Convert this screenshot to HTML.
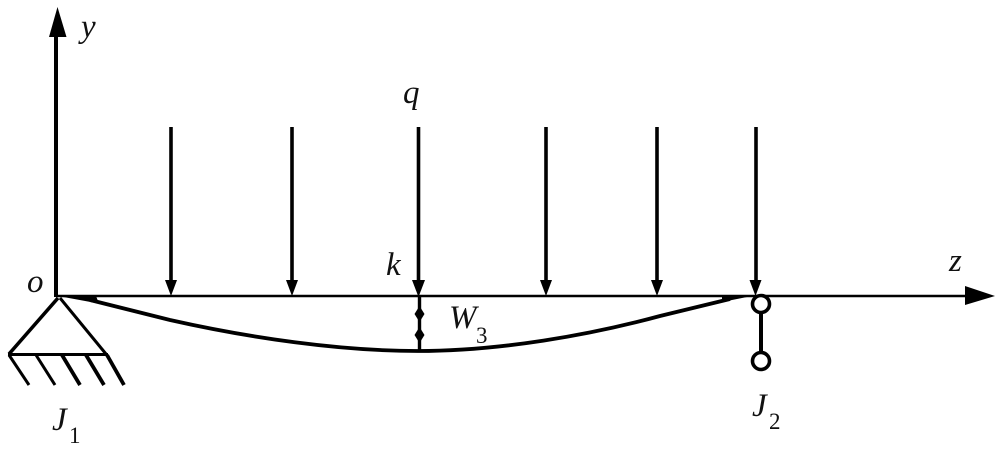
<!DOCTYPE html>
<html>
<head>
<meta charset="utf-8">
<style>
html,body{margin:0;padding:0;background:#fff;width:1000px;height:452px;overflow:hidden}
svg{display:block}
text{font-family:"Liberation Serif",serif;font-style:italic;fill:#111}
.n{font-style:normal}
</style>
</head>
<body>
<svg width="1000" height="452" viewBox="0 0 1000 452" xmlns="http://www.w3.org/2000/svg">
<!-- axes -->
<line x1="56" y1="35" x2="56" y2="297" stroke="#000" stroke-width="4"/>
<polygon points="57.5,7 49,37 66.5,37" fill="#000"/>
<line x1="56" y1="296" x2="965" y2="296" stroke="#000" stroke-width="2.6"/>
<polygon points="995,296 965,286 965,305" fill="#000"/>
<!-- load arrows -->
<g stroke="#000" stroke-width="3.6">
<line x1="171" y1="127" x2="171" y2="282"/>
<line x1="292" y1="127" x2="292" y2="282"/>
<line x1="418.500" y1="127" x2="418.500" y2="282"/>
<line x1="546" y1="127" x2="546" y2="282"/>
<line x1="657" y1="127" x2="657" y2="282"/>
<line x1="756" y1="127" x2="756" y2="282"/>
</g>
<g fill="#000">
<polygon points="165,280 177,280 171,296"/>
<polygon points="286,280 298,280 292,296"/>
<polygon points="412,280 425,280 418.500,297"/>
<polygon points="540,280 552,280 546,296"/>
<polygon points="651,280 663,280 657,296"/>
<polygon points="749.500,280 761.500,280 755.500,296"/>
</g>
<!-- deflection curve -->
<polygon points="58,296 96,296 98,301 96,303" fill="#000"/>
<polygon points="752,296 722,296 722,302" fill="#000"/>
<path d="M90,300 L170,320 C250,338 340,351 418,351 C500,351 590,335 660,316 L730,299" fill="none" stroke="#000" stroke-width="3.800"/>
<!-- W3 dimension -->
<line x1="419.500" y1="297" x2="419.500" y2="351" stroke="#000" stroke-width="3.400"/>
<polygon points="419.500,306 414.500,314 419.500,322 424.500,314" fill="#000"/>
<polygon points="419.500,327 414.500,335 419.500,343 424.500,335" fill="#000"/>
<!-- J1 support -->
<g stroke="#000" fill="none">
<line x1="58" y1="298" x2="9" y2="354" stroke-width="3.600"/>
<line x1="60" y1="298" x2="106" y2="354" stroke-width="3"/>
<line x1="8" y1="354.500" x2="108" y2="354.500" stroke-width="3"/>
<line x1="9" y1="355" x2="29" y2="385" stroke-width="3"/>
<line x1="36" y1="355" x2="55" y2="385" stroke-width="3"/>
<line x1="62" y1="355" x2="80" y2="385" stroke-width="3.800"/>
<line x1="86" y1="355" x2="104" y2="385" stroke-width="3.800"/>
<line x1="107" y1="355" x2="124" y2="385" stroke-width="3.800"/>
</g>
<!-- J2 link -->
<line x1="761" y1="310" x2="761" y2="352" stroke="#000" stroke-width="4"/>
<circle cx="761" cy="304" r="8.500" fill="#fff" stroke="#000" stroke-width="3.600"/>
<circle cx="761" cy="361" r="8.500" fill="#fff" stroke="#000" stroke-width="3.600"/>
<!-- labels -->
<text x="81" y="37" font-size="33">y</text>
<text x="403" y="103" font-size="33">q</text>
<text x="386" y="275" font-size="33">k</text>
<text x="27" y="292" font-size="33">o</text>
<text x="949" y="271" font-size="33">z</text>
<text x="449" y="328" font-size="33">W</text>
<text class="n" x="476" y="343" font-size="23">3</text>
<text x="52" y="430" font-size="33">J</text>
<text class="n" x="69" y="443" font-size="23">1</text>
<text x="752" y="416" font-size="33">J</text>
<text class="n" x="769" y="429" font-size="23">2</text>
</svg>
</body>
</html>
